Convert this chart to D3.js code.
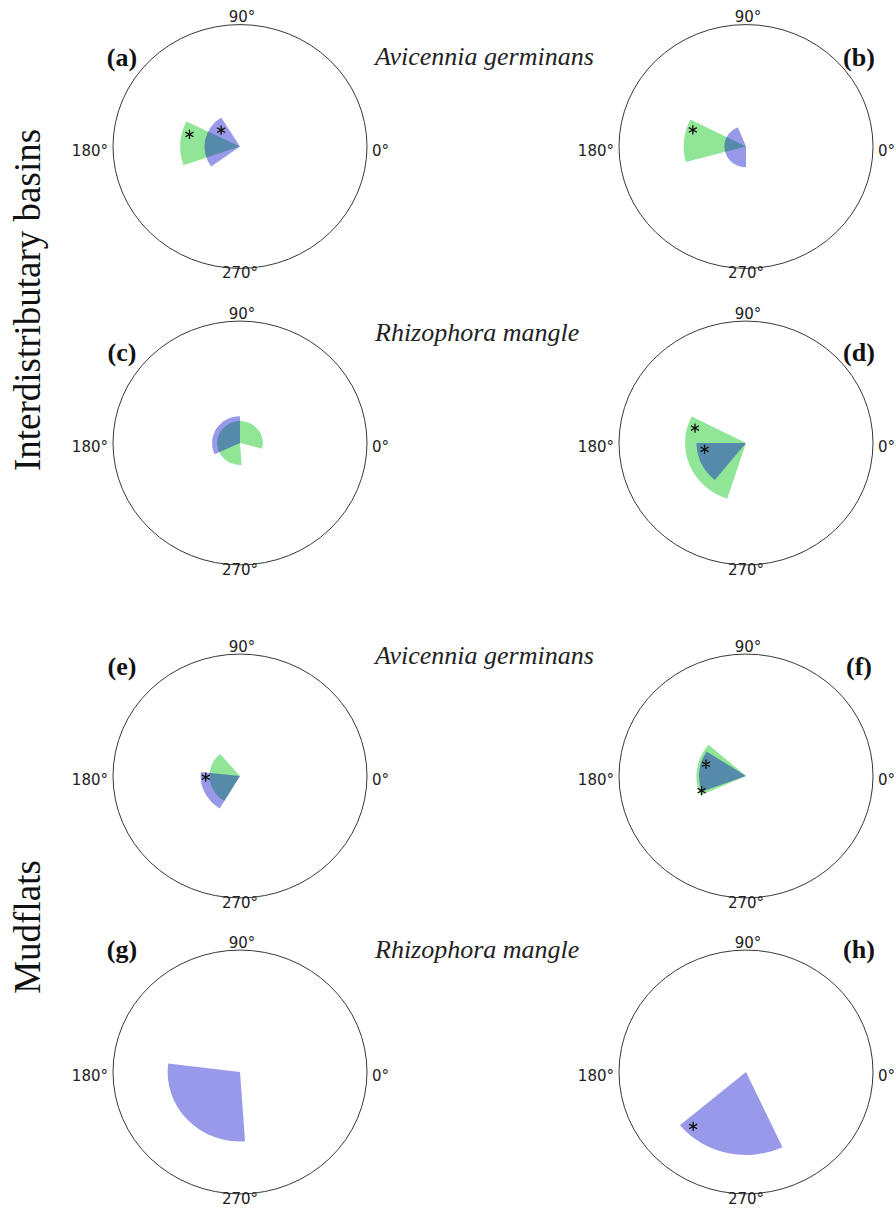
<!DOCTYPE html>
<html>
<head>
<meta charset="utf-8">
<script src="https://cdnjs.cloudflare.com/ajax/libs/d3/7.8.5/d3.min.js"></script>
<style>
body { margin: 0; background: #fff; }
svg { display: block; }
.deg { font-family: "DejaVu Sans", sans-serif; font-size: 15px; fill: #222; }
.tag { font-family: "Liberation Serif", serif; font-weight: bold; font-size: 26px; fill: #111; }
.species { font-family: "Liberation Serif", serif; font-style: italic; font-size: 26px; fill: #222; }
.site { font-family: "Liberation Serif", serif; font-size: 37px; fill: #111; }
</style>
</head>
<body>
<svg id="chart" width="896" height="1214"></svg>
<script>
// panel tags and titles
const tags = ['(a)', '(b)', '(c)', '(d)', '(e)', '(f)', '(g)', '(h)'];
const species = ['Avicennia germinans', 'Rhizophora mangle', 'Avicennia germinans', 'Rhizophora mangle'];
const sites = ['Interdistributary basins', 'Mudflats'];
const degLabels = ['0°', '90°', '180°', '270°'];

// green sectors: from / to direction (deg, counter-clockwise from 0°) and length (% of circle radius)
const greenFrom = [154, 153, 345, 153, 131, 139, null, null];
const greenTo   = [199, 195, 634, 252, 239, 204, null, null];
const greenLen  = [47, 49, 18, 48, 24, 39, null, null];

// blue sectors
const blueFrom = [122, 112, 90, 180, 174, 147, 173, 220];
const blueTo   = [216, 270, 205, 231, 239, 200, 274, 295];
const blueLen  = [28, 17, 22, 39, 31, 37, 57, 68];

// significance marks: panel index, direction, length
const starPanel = [0, 0, 1, 3, 3, 4, 5, 5, 7];
const starDir   = [166, 138, 162, 163, 189, 182, 163, 199, 227];
const starLen   = [41, 20, 44, 42, 33, 27, 33, 37, 61];

// layout
const colX = [240, 746];
const rowY = [146.5, 443, 776, 1072];
const rx = 127, sy = 0.96, ry = rx * sy;
const tagY = [66, 361, 675, 958];
const speciesY = [65, 341, 664, 958];
const siteY = [300, 927];

const svg = d3.select('svg#chart');
const r = d3.scaleLinear().domain([0, 100]).range([0, rx]);
const rad = d => d * Math.PI / 180;
const arc = d3.arc().innerRadius(0);

function sector(from, to, len) {
    return arc({ outerRadius: r(len), startAngle: rad(90 - to), endAngle: rad(90 - from) });
}

tags.forEach((tag, i) => {
    let row = Math.floor(i / 2), col = i % 2;
    let g = svg.append('g').attr('transform', 'translate(' + colX[col] + ',' + rowY[row] + ')');
    let polar = g.append('g').attr('transform', 'scale(1,' + sy + ')');

    polar.append('circle')
        .attr('r', rx)
        .attr('fill', 'none')
        .attr('stroke', '#333')
        .attr('stroke-width', 1);

    if (greenLen[i] != null) {
        polar.append('path')
            .attr('d', sector(greenFrom[i], greenTo[i], greenLen[i]))
            .attr('fill', '#90e696');
    }
    polar.append('path')
        .attr('d', sector(blueFrom[i], blueTo[i], blueLen[i]))
        .attr('fill', 'rgba(0,0,200,0.4)');

    // direction labels
    g.append('text').attr('class', 'deg').attr('x', rx + 5).attr('y', 9).text(degLabels[0]);
    g.append('text').attr('class', 'deg').attr('x', 2).attr('y', -ry - 2.5)
        .attr('text-anchor', 'middle').text(degLabels[1]);
    g.append('text').attr('class', 'deg').attr('x', -rx - 5).attr('y', 9)
        .attr('text-anchor', 'end').text(degLabels[2]);
    g.append('text').attr('class', 'deg').attr('x', 0).attr('y', ry + 10)
        .attr('text-anchor', 'middle').text(degLabels[3]);

    // panel tag
    svg.append('text')
        .attr('class', 'tag')
        .attr('x', col == 0 ? colX[col] - 118 : colX[col] + 113)
        .attr('y', tagY[row])
        .attr('text-anchor', 'middle')
        .text(tag);
});

// asterisks
const star = d3.symbol().type(d3.symbolAsterisk).size(60);
starPanel.forEach((p, k) => {
    let row = Math.floor(p / 2), col = p % 2;
    let x = colX[col] + r(starLen[k]) * Math.cos(rad(starDir[k]));
    let y = rowY[row] - r(starLen[k]) * Math.sin(rad(starDir[k])) * sy;
    svg.append('path')
        .attr('d', star())
        .attr('transform', 'translate(' + x + ',' + y + ')')
        .attr('fill', 'none')
        .attr('stroke', '#111')
        .attr('stroke-width', 1.3);
});

// species titles
species.forEach((s, i) => {
    svg.append('text')
        .attr('class', 'species')
        .attr('x', 375)
        .attr('y', speciesY[i])
        .text(s);
});

// site labels (vertical)
sites.forEach((s, i) => {
    svg.append('text')
        .attr('class', 'site')
        .attr('text-anchor', 'middle')
        .attr('transform', 'translate(40,' + siteY[i] + ') rotate(-90)')
        .text(s);
});
</script>
</body>
</html>
